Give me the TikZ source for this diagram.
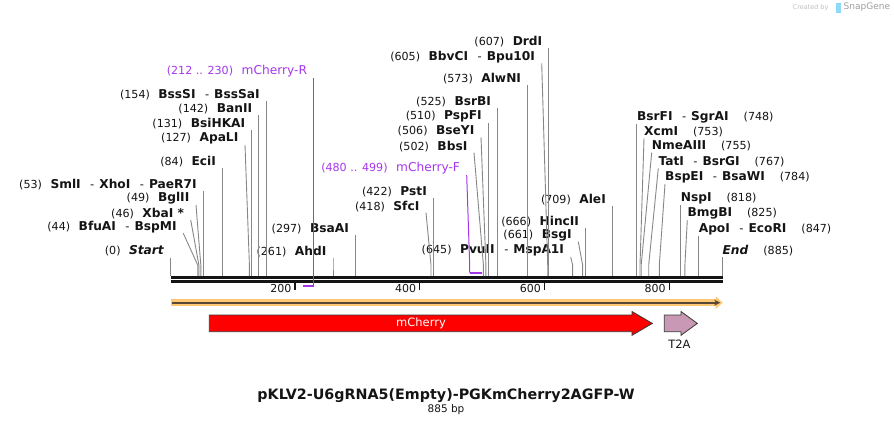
\documentclass[tikz,border=0pt]{standalone}
\usepackage{fontspec}
\setmainfont{DejaVu Sans}
\usetikzlibrary{arrows.meta}
\definecolor{leadgray}{RGB}{135,135,135}
\definecolor{primer}{RGB}{165,55,235}
\definecolor{seqorange}{RGB}{252,200,115}
\definecolor{seqdark}{RGB}{90,72,55}
\definecolor{cherryred}{RGB}{255,0,0}
\definecolor{tpink}{RGB}{201,152,181}
\definecolor{ink}{RGB}{20,20,20}
\newcommand{\enz}[1]{{\fontsize{12.2}{14}\selectfont\bfseries #1}}
\newcommand{\bpos}[1]{{\fontsize{11.1}{13}\selectfont(#1)}}
\newcommand{\enzor}{\hspace{9.5pt}-\hspace{5pt}}
\newcommand{\pgap}{\hspace{8.5pt}}
\newcommand{\rgap}{\hspace{15pt}}
\begin{document}
\begin{tikzpicture}[x=1pt, y=-1pt,
  font=\fontsize{11.5}{13}\selectfont,
  lsite/.style = {anchor=east, inner sep=0pt, text=ink},
  rsite/.style = {anchor=west, inner sep=0pt, text=ink},
  lead/.style = {draw=leadgray, line width=0.9pt},
  primerlead/.style = {draw=primer, line width=1pt},
  primerbar/.style = {draw=primer, line width=1.8pt},
  bb/.style = {draw=ink, line width=2.6pt},
  tick/.style = {draw=ink, line width=1.3pt},
  ticklbl/.style = {anchor=east, inner sep=0pt, text=ink, font=\fontsize{11}{12}\selectfont},
  feat/.style = {draw=ink!85, line width=0.8pt}
                    ]
\useasboundingbox (0,0) rectangle (894,426);
% backbone and sites
\coordinate (seqL) at (170.7,277.3);
\coordinate (seqR) at (723.3,277.3);
\coordinate (bend) at (0,265);
\coordinate (tickend) at (0,290);
\draw[bb] (seqL) -- (seqR);
\draw[bb] ([yshift=-4pt]seqL) -- ([yshift=-4pt]seqR);
\foreach \p/\x in {0/170.5, 44/197.7, 46/198.9, 49/200.8, 53/203.3, 84/222.6,
    127/249.4, 131/251.9, 142/258.8, 154/266.3, 261/333.0, 297/355.5,
    418/431.0, 422/433.5, 502/483.4, 506/485.9, 510/488.4, 525/497.7,
    573/527.7, 605/547.7, 607/548.9, 645/572.6, 661/582.6, 666/585.7,
    709/612.5, 748/636.9, 753/640.0, 755/641.2, 767/648.7, 784/659.3,
    818/680.6, 825/684.9, 847/698.6, 885/722.4}
  \coordinate (c\p) at (\x,276);
% ruler
\foreach \v/\x in {200/295.0, 400/419.8, 600/544.5, 800/669.3}{
  \coordinate (k\v) at (\x,282.5);
  \draw[tick] (k\v) -- (k\v |- tickend);
  \node[ticklbl] (t\v) at (\x-3.5,288.5) {\v};
}
%
\node[lsite] (Start) at (164,251) {\bpos{0}\pgap\enz{\itshape Start}};
\node[lsite] (BfuAI) at (176.8,226.8) {\bpos{44}\pgap\enz{BfuAI}\enzor\enz{BspMI}};
\node[lsite] (XbaI) at (184.2,213.5) {\bpos{46}\pgap\enz{XbaI *}};
\node[lsite] (BglII) at (189.5,198.5) {\bpos{49}\pgap\enz{BglII}};
\node[lsite] (SmlI) at (196.8,184.2) {\bpos{53}\pgap\enz{SmlI}\enzor\enz{XhoI}\enzor\enz{PaeR7I}};
\node[lsite] (EciI) at (216.1,161.8) {\bpos{84}\pgap\enz{EciI}};
\node[lsite] (ApaLI) at (238.5,138.5) {\bpos{127}\pgap\enz{ApaLI}};
\node[lsite] (BsiHKAI) at (245.4,123.5) {\bpos{131}\pgap\enz{BsiHKAI}};
\node[lsite] (BanII) at (252.3,108.5) {\bpos{142}\pgap\enz{BanII}};
\node[lsite] (BssSI) at (259.8,94.5) {\bpos{154}\pgap\enz{BssSI}\enzor\enz{BssSaI}};
\node[lsite, text=primer] (mchR) at (307.2,71.5) {\bpos{212 .. 230}\pgap{\fontsize{12.2}{14}\selectfont mCherry-R}};
\node[lsite] (AhdI) at (326.5,251.2) {\bpos{261}\pgap\enz{AhdI}};
\node[lsite] (BsaAI) at (349,228.5) {\bpos{297}\pgap\enz{BsaAI}};
\node[lsite] (SfcI) at (419.5,206.2) {\bpos{418}\pgap\enz{SfcI}};
\node[lsite] (PstI) at (427,191.8) {\bpos{422}\pgap\enz{PstI}};
\node[lsite, text=primer] (mchF) at (460.2,168.5) {\bpos{480 .. 499}\pgap{\fontsize{12.2}{14}\selectfont mCherry-F}};
\node[lsite] (BbsI) at (467.5,146.2) {\bpos{502}\pgap\enz{BbsI}};
\node[lsite] (BseYI) at (474.5,130.8) {\bpos{506}\pgap\enz{BseYI}};
\node[lsite] (PspFI) at (481.9,116.8) {\bpos{510}\pgap\enz{PspFI}};
\node[lsite] (BsrBI) at (491.2,101.8) {\bpos{525}\pgap\enz{BsrBI}};
\node[lsite] (AlwNI) at (521.2,78.5) {\bpos{573}\pgap\enz{AlwNI}};
\node[lsite] (BbvCI) at (535.2,56.8) {\bpos{605}\pgap\enz{BbvCI}\enzor\enz{Bpu10I}};
\node[lsite] (DrdI) at (542.4,41.8) {\bpos{607}\pgap\enz{DrdI}};
\node[lsite] (PvuII) at (564.2,250.5) {\bpos{645}\pgap\enz{PvuII}\enzor\enz{MspA1I}};
\node[lsite] (BsgI) at (571.8,235.2) {\bpos{661}\pgap\enz{BsgI}};
\node[lsite] (HincII) at (579.2,221.8) {\bpos{666}\pgap\enz{HincII}};
\node[lsite] (AleI) at (606,199.5) {\bpos{709}\pgap\enz{AleI}};
%
\node[rsite] (BsrFI) at (636.9,117.5) {\enz{BsrFI}\enzor\enz{SgrAI}\rgap\bpos{748}};
\node[rsite] (XcmI) at (644,131.8) {\enz{XcmI}\rgap\bpos{753}};
\node[rsite] (NmeAIII) at (651.7,146.2) {\enz{NmeAIII}\rgap\bpos{755}};
\node[rsite] (TatI) at (658.3,161.8) {\enz{TatI}\enzor\enz{BsrGI}\rgap\bpos{767}};
\node[rsite] (BspEI) at (665,177.5) {\enz{BspEI}\enzor\enz{BsaWI}\rgap\bpos{784}};
\node[rsite] (NspI) at (680.6,198.5) {\enz{NspI}\rgap\bpos{818}};
\node[rsite] (BmgBI) at (687.3,213.5) {\enz{BmgBI}\rgap\bpos{825}};
\node[rsite] (ApoI) at (698.6,229.5) {\enz{ApoI}\enzor\enz{EcoRI}\rgap\bpos{847}};
\node[rsite] (End) at (722.4,250.5) {\enz{\itshape End}\rgap\bpos{885}};
%
\foreach \n/\p in {Start/0, BfuAI/44, XbaI/46, BglII/49, SmlI/53, EciI/84,
    ApaLI/127, BsiHKAI/131, BanII/142, BssSI/154, AhdI/261, BsaAI/297,
    SfcI/418, PstI/422, BbsI/502, BseYI/506, PspFI/510, BsrBI/525,
    AlwNI/573, BbvCI/605, DrdI/607, PvuII/645, BsgI/661, HincII/666, AleI/709}
  \draw[lead] ([shift={(6.5,6.5)}]\n.east) -- (c\p |- bend) -- (c\p);
\foreach \n/\p in {BsrFI/748, XcmI/753, NmeAIII/755, TatI/767, BspEI/784,
    NspI/818, BmgBI/825, ApoI/847, End/885}
  \draw[lead] ([shift={(0,6.5)}]\n.west) -- (c\p |- bend) -- (c\p);
% primers
\coordinate (pR1) at (313.7,285.7);
\coordinate (pR0) at (302.5,285.7);
\coordinate (pF0) at (469.7,272.7);
\coordinate (pF1) at (481.5,272.7);
\draw[primerlead] ([shift={(6.5,6.5)}]mchR.east) -- (pR1);
\draw[primerbar] (pR1) -- (pR0);
\draw[primerlead] ([shift={(6.5,6.5)}]mchF.east) -- (pF0 |- bend) -- (pF0);
\draw[primerbar] (pF0) -- (pF1);
% direction arrow
\coordinate (dirL) at (170.7,302.7);
\coordinate (dirR) at (722.7,302.7);
\draw[draw=seqorange, line width=7pt, -{Triangle[length=7pt,width=12pt]}] (dirL) -- (dirR);
\draw[draw=seqdark, line width=2pt, -{Stealth[length=6pt,width=6pt]}] ([xshift=1.5pt]dirL) -- ([xshift=-2.5pt]dirR);
% features
\draw[feat, fill=cherryred] (209.3,315) -- (632,315) -- (632,311.5) -- (652.3,323.4)
  -- (632,335.3) -- (632,331.7) -- (209.3,331.7) -- cycle;
\node[text=white, font=\fontsize{11.5}{13}\selectfont] (mcherry) at (421,323.4) {mCherry};
\draw[feat, fill=tpink] (664.3,315) -- (681,315) -- (681,311.5) -- (697.3,323.4)
  -- (681,335.3) -- (681,331.7) -- (664.3,331.7) -- cycle;
\node[text=ink, font=\fontsize{11.5}{13}\selectfont] (t2a) at (679.5,344.5) {T2A};
% title
\node[text=ink, font=\fontsize{14.3}{16}\selectfont\bfseries] (title) at (446,395.5) {pKLV2-U6gRNA5(Empty)-PGKmCherry2AGFP-W};
\node[text=ink, font=\fontsize{10.5}{12}\selectfont] (size) at (446,410) {885 bp};
% watermark
\node[text=black!25, font=\fontsize{6.5}{8}\selectfont, anchor=east] (made) at (832,7.5) {Created by};
\fill[cyan!45] (836,2.5) rectangle (840.5,12.5);
\node[text=black!38, font=\fontsize{9}{10}\selectfont, anchor=west, inner sep=0pt] (snap) at (843.5,7.5) {SnapGene};
\end{tikzpicture}
\end{document}
